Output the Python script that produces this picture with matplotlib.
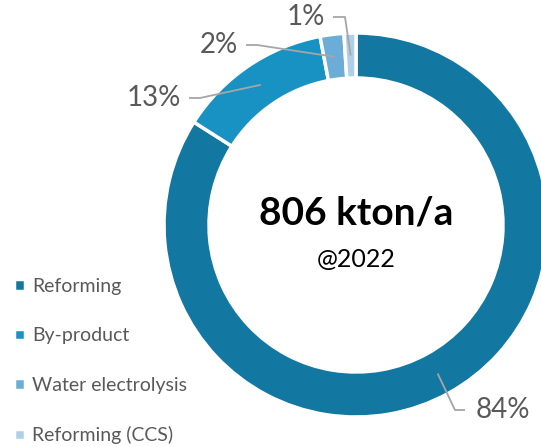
import numpy as np
import matplotlib.pyplot as plt

plt.rcParams['font.family'] = ['Lato', 'DejaVu Sans']

# Hydrogen production by route, 2022
categories = ['Reforming', 'By-product', 'Water electrolysis', 'Reforming (CCS)']
shares = [84, 13, 2, 1]
pct_labels = ['84%', '13%', '2%', '1%']
colors = ['#1277a1', '#1891c3', '#6badd6', '#afcfe8']
total_text = '806 kton/a'
year_text = '@2022'

W, H = 541, 447
fig = plt.figure(figsize=(W / 100, H / 100), dpi=100)
ax = fig.add_axes([0, 0, 1, 1])

cx, cy = 356, H - 225
R, ring = 192, 45
wedges, _ = ax.pie(shares, colors=colors, startangle=90, counterclock=False,
                   radius=R, center=(cx, cy),
                   wedgeprops=dict(width=ring, edgecolor='white', linewidth=2.5))
ax.set_xlim(0, W)
ax.set_ylim(0, H)
ax.set_aspect('equal')
ax.axis('off')

# centre text
ax.text(cx, H - 213, total_text, ha='center', va='center', fontsize=28,
        fontweight='bold', color='black')
ax.text(cx, H - 259, year_text, ha='center', va='center', fontsize=18, color='black')

# leader lines + percentage labels (text x,y in pixel coords from top-left, elbow dx, side)
label_pos = [(476, 410, -21, 'left'), (181, 98, 19, 'right'),
             (238, 45, 19, 'right'), (325, 17, 20, 'right')]
angles = 90 - 360 * (np.cumsum(shares) - np.array(shares) / 2) / sum(shares)
rmid = R - ring / 2
for ang, lab, (tx, ty, dx, side) in zip(angles, pct_labels, label_pos):
    a = np.deg2rad(ang)
    px, py = cx + rmid * np.cos(a), cy + rmid * np.sin(a)
    gap = 8 if side == 'right' else -11
    ex = tx + gap
    kx = tx + dx
    ax.plot([px, kx, ex], [py, H - ty, H - ty], color='#a6a6a6', lw=1.3,
            solid_capstyle='butt')
    ax.text(tx, H - ty, lab, ha=side, va='center', fontsize=20, color='#595959')

ax.legend(wedges, categories, loc='upper left', bbox_to_anchor=(0.012, 1 - 270 / H),
          frameon=False, fontsize=14, labelcolor='#595959', handlelength=0.55,
          handleheight=0.55, handletextpad=0.35, labelspacing=1.67, borderaxespad=0)

fig.savefig('out.png', dpi=100)
